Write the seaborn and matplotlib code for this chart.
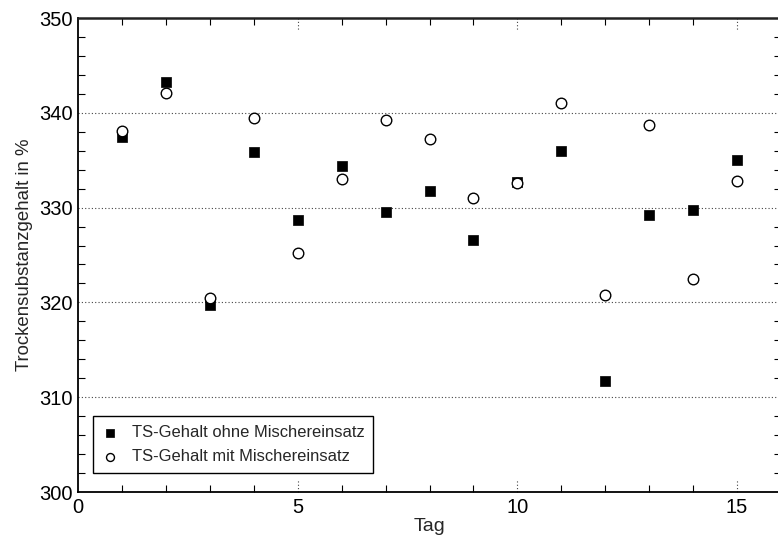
import numpy as np
import pandas as pd
import matplotlib
matplotlib.use("Agg")
import matplotlib.pyplot as plt
import matplotlib.transforms as mtransforms
from matplotlib.ticker import MultipleLocator
import seaborn as sns

# Daily dry-matter readings
tage = list(range(1, 16))
ts_ohne = [337.4, 343.2, 319.7, 335.9, 328.7, 334.4, 329.5, 331.8, 326.6, 332.7, 336.0, 311.7, 329.2, 329.7, 335.0]
ts_mit = [338.1, 342.1, 320.5, 339.5, 325.2, 333.0, 339.2, 337.2, 331.0, 332.6, 341.0, 320.8, 338.7, 322.5, 332.8]
label_ohne = "TS-Gehalt ohne Mischereinsatz"
label_mit = "TS-Gehalt mit Mischereinsatz"
x_ticks = [0, 5, 10, 15]
y_ticks = [300, 310, 320, 330, 340, 350]

sns.set_theme(style="white")
plt.rcParams["font.family"] = ["Liberation Sans", "DejaVu Sans"]

df = pd.DataFrame({
    "Tag": tage * 2,
    "TS": ts_ohne + ts_mit,
    "Serie": [label_ohne] * len(tage) + [label_mit] * len(tage),
})

fig = plt.figure(figsize=(7.78, 5.41), dpi=100)
ax = fig.add_axes([78 / 778, 1 - 492 / 541, 703 / 778, 474 / 541])

sns.scatterplot(data=df[df["Serie"] == label_ohne], x="Tag", y="TS", ax=ax,
                marker="s", color="black", edgecolor="black", s=52, linewidth=0.5,
                label=label_ohne, zorder=3)
sns.scatterplot(data=df[df["Serie"] == label_mit], x="Tag", y="TS", ax=ax,
                marker="o", facecolor="white", edgecolor="black", s=58, linewidth=1.0,
                label=label_mit, zorder=4)

ax.set_xlim(0, 16)
ax.set_ylim(300, 350)
ax.set_xticks(x_ticks)
ax.set_yticks(y_ticks)
ax.xaxis.set_minor_locator(MultipleLocator(1))
ax.yaxis.set_minor_locator(MultipleLocator(2))
ax.tick_params(axis="both", which="major", length=0, labelsize=14.5, pad=4, colors="black")
ax.tick_params(axis="both", which="minor", direction="in", length=5, width=0.8,
               top=True, right=True, bottom=True, left=True, color="black")

# dotted horizontal grid at major y values
for yv in y_ticks[1:-1]:
    ax.axhline(yv, color="#444444", linestyle=(0, (1, 2)), linewidth=0.8, zorder=1)

# short dotted marks at major x values, top and bottom
trans = mtransforms.blended_transform_factory(ax.transData, ax.transAxes)
for xv in x_ticks[1:]:
    ax.plot([xv, xv], [0, 0.026], transform=trans, color="#444444",
            linestyle=(0, (1, 2)), linewidth=0.8, clip_on=False, zorder=1)
    ax.plot([xv, xv], [1, 0.974], transform=trans, color="#444444",
            linestyle=(0, (1, 2)), linewidth=0.8, clip_on=False, zorder=1)

for side in ["left", "bottom"]:
    ax.spines[side].set_color("black")
    ax.spines[side].set_linewidth(1.3)
ax.spines["top"].set_color("#222222")
ax.spines["top"].set_linewidth(1.8)
ax.spines["right"].set_color("black")

ax.set_xlabel("Tag", fontsize=14, labelpad=1)
ax.set_ylabel("Trockensubstanzgehalt in %", fontsize=13.4, labelpad=4)

leg = ax.legend(loc="lower left", bbox_to_anchor=(0.021, 0.04), fontsize=11.9,
                frameon=True, fancybox=False, edgecolor="black", framealpha=1,
                handletextpad=0.8, borderpad=0.55, labelspacing=0.55,
                handlelength=1.0, borderaxespad=0, markerscale=0.75)
leg.get_frame().set_linewidth(1.0)

fig.savefig("out.png", dpi=100)
